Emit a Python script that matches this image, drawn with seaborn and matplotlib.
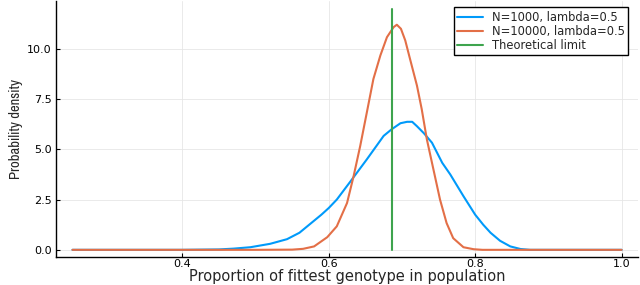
import matplotlib
matplotlib.use("Agg")
import matplotlib.pyplot as plt
from matplotlib import font_manager
import pandas as pd
import seaborn as sns

# density curves
x_small = [0.25, 0.40, 0.45, 0.47, 0.493, 0.52, 0.543, 0.56, 0.575, 0.59, 0.60, 0.611,
           0.63, 0.652, 0.675, 0.686, 0.698, 0.707, 0.714, 0.7205, 0.73, 0.741, 0.755,
           0.766, 0.784, 0.80, 0.811, 0.821, 0.834, 0.848, 0.862, 0.875, 1.0]
y_small = [0.0, 0.0, 0.02, 0.06, 0.13, 0.3, 0.53, 0.85, 1.3, 1.75, 2.08, 2.5,
           3.42, 4.5, 5.67, 6.0, 6.3, 6.37, 6.37, 6.15, 5.8, 5.33, 4.33,
           3.75, 2.67, 1.75, 1.25, 0.85, 0.45, 0.17, 0.04, 0.0, 0.0]

x_large = [0.25, 0.50, 0.55, 0.565, 0.58, 0.598, 0.611, 0.625, 0.634, 0.643, 0.652,
           0.661, 0.6705, 0.6795, 0.6886, 0.693, 0.6986, 0.7045, 0.711, 0.7205, 0.727,
           0.734, 0.743, 0.752, 0.761, 0.770, 0.784, 0.798, 0.81, 1.0]
y_large = [0.0, 0.0, 0.01, 0.05, 0.17, 0.63, 1.17, 2.33, 3.67, 5.17, 6.83,
           8.5, 9.67, 10.58, 11.08, 11.2, 11.0, 10.42, 9.5, 8.17, 7.0,
           5.5, 4.0, 2.5, 1.33, 0.58, 0.13, 0.03, 0.0, 0.0]

limit_x = [0.686, 0.686]
limit_y = [0.0, 12.0]

labels = ["N=1000, lambda=0.5", "N=10000, lambda=0.5", "Theoretical limit"]
colors = ["#009AFA", "#E36F47", "#3EA44E"]

x_ticks = [0.4, 0.6, 0.8, 1.0]
y_ticks = [0.0, 2.5, 5.0, 7.5, 10.0]

sns.set_theme(style="white")
plt.rcParams["font.family"] = ["DejaVu Sans"]

fig = plt.figure(figsize=(6.4, 2.85), dpi=100)
ax = fig.add_axes([0.0875, 0.098, 0.9095, 0.897])

series = [(x_small, y_small), (x_large, y_large), (limit_x, limit_y)]
for (xs, ys), lab, col in zip(series, labels, colors):
    df = pd.DataFrame({"x": xs, "y": ys})
    sns.lineplot(data=df, x="x", y="y", ax=ax, color=col, lw=1.5, label=lab,
                 estimator=None, sort=False)

ax.set_xlim(0.2275, 1.0225)
ax.set_ylim(-0.36, 12.36)
ax.set_xticks(x_ticks)
ax.set_xticklabels([f"{v:.1f}" for v in x_ticks])
ax.set_yticks(y_ticks)
ax.set_yticklabels([f"{v:.1f}" for v in y_ticks])
ax.tick_params(direction="in", length=3, width=0.8, labelsize=8, pad=3,
               bottom=True, left=True, colors="black")
ax.tick_params(axis="x", pad=1.5)
ax.grid(True, color="#e6e6e6", lw=0.6)
for side in ["top", "right"]:
    ax.spines[side].set_visible(False)
for side in ["left", "bottom"]:
    ax.spines[side].set_color("black")
    ax.spines[side].set_linewidth(1.0)

ax.set_xlabel("Proportion of fittest genotype in population", fontsize=10.5, labelpad=0)
narrow = [f.name for f in font_manager.fontManager.ttflist if "Narrow" in f.name]
ax.set_ylabel("Probability density", fontsize=10.5, labelpad=3,
              family=narrow[:1] + ["DejaVu Sans"])

leg = ax.legend(loc="upper right", bbox_to_anchor=(0.993, 1.0), fontsize=8.3,
                frameon=True, fancybox=False, edgecolor="black", framealpha=1,
                handlelength=2.2, borderpad=0.3, labelspacing=0.1, handletextpad=0.8)
leg.get_frame().set_linewidth(1.0)

fig.savefig("out.png", dpi=100)
